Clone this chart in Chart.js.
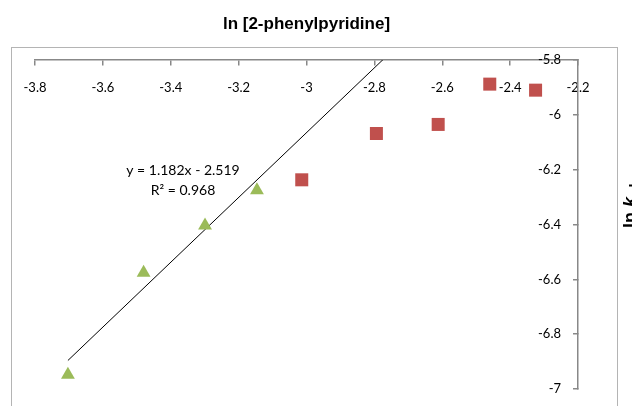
<!DOCTYPE html>
<html>
<head>
<meta charset="utf-8">
<script src="https://cdn.jsdelivr.net/npm/chart.js@4/dist/chart.umd.min.js"></script>
<style>
  body { margin: 0; background: #fff; }
  #wrap { position: relative; width: 632px; height: 406px; overflow: hidden; }
  #frame { position: absolute; left: 11px; top: 47px; width: 605px; height: 420px; border: 1px solid #b4b4b4; }
  canvas { position: absolute; left: 0; top: 0; }
</style>
</head>
<body>
<div id="wrap">
  <div id="frame"></div>
  <canvas id="chart" width="632" height="406"></canvas>
</div>
<script>
// ln [2-phenylpyridine] against ln k_obs, two concentration regimes
const xTickLabels = ['-3.8', '-3.6', '-3.4', '-3.2', '-3', '-2.8', '-2.6', '-2.4', '-2.2'];
const yTickLabels = ['-7', '-6.8', '-6.6', '-6.4', '-6.2', '-6', '-5.8'];

// low concentration points (fitted)
const lowX = [-3.703, -3.48, -3.299, -3.146];
const lowY = [-6.948, -6.576, -6.404, -6.275];

// high concentration points
const highX = [-3.014, -2.794, -2.612, -2.46, -2.325];
const highY = [-6.237, -6.068, -6.035, -5.888, -5.91];

// linear trendline from the fit
const slope = 1.182;
const intercept = -2.519;
const rSquared = 0.968;
const trendX = [-3.703, -2.7];

const axisFont = { family: 'Lato', size: 13 };

function toPoints(xs, ys) {
    return xs.map((x, i) => ({ x: x, y: ys[i] }));
}

// equation label and the rotated y title
const annotations = {
    id: 'annotations',
    afterDraw(chart) {
        const ctx = chart.ctx;
        ctx.save();
        ctx.fillStyle = '#000';
        ctx.textAlign = 'center';
        ctx.textBaseline = 'middle';
        ctx.font = '14px Lato';
        ctx.fillText('y = ' + slope + 'x - ' + Math.abs(intercept), 183, 170);
        ctx.fillText('R\u00B2 = ' + rSquared, 183, 190);

        ctx.translate(636, 228);
        ctx.rotate(-Math.PI / 2);
        ctx.textAlign = 'left';
        ctx.textBaseline = 'alphabetic';
        ctx.font = 'bold 18px "Liberation Sans"';
        ctx.fillText('ln ', 0, 0);
        let w = ctx.measureText('ln ').width;
        ctx.font = 'italic bold 18px "Liberation Sans"';
        ctx.fillText('k', w, 0);
        w += ctx.measureText('k').width + 1;
        ctx.font = 'bold 14px "Liberation Sans"';
        ctx.fillText('obs', w, 4);
        ctx.restore();
    }
};

const ctx = document.getElementById('chart').getContext('2d');
const chart = new Chart(ctx, {
    type: 'scatter',
    data: {
        datasets: [
            {
                label: 'low',
                data: toPoints(lowX, lowY),
                pointStyle: 'triangle',
                pointRadius: 8,
                backgroundColor: '#9BBB59',
                borderColor: '#9BBB59',
                borderWidth: 0
            },
            {
                label: 'high',
                data: toPoints(highX, highY),
                pointStyle: 'rect',
                pointRadius: 9.2,
                backgroundColor: '#C0504D',
                borderColor: '#C0504D',
                borderWidth: 0
            },
            {
                label: 'trend',
                type: 'line',
                data: trendX.map(x => ({ x: x, y: slope * x + intercept })),
                borderColor: '#000',
                borderWidth: 1,
                pointRadius: 0,
                fill: false
            }
        ]
    },
    options: {
        responsive: false,
        animation: false,
        events: [],
        layout: { padding: { left: 35, right: 54, top: 0, bottom: 17 } },
        plugins: {
            legend: { display: false },
            tooltip: { enabled: false },
            title: {
                display: true,
                fullSize: false,
                text: 'ln [2-phenylpyridine]',
                color: '#000',
                font: { family: 'Liberation Sans', size: 17, weight: 'bold' },
                padding: { top: 14.3, bottom: 25.3 }
            }
        },
        scales: {
            x: {
                type: 'linear',
                position: { y: -5.8 },
                min: -3.8,
                max: -2.2,
                border: { color: '#888', width: 1.5 },
                grid: { drawOnChartArea: false, tickLength: 5, color: '#888', lineWidth: 1.5 },
                ticks: {
                    stepSize: 0.2,
                    padding: 15,
                    color: '#000',
                    font: axisFont,
                    maxRotation: 0,
                    autoSkip: false,
                    callback: (v, i) => xTickLabels[i]
                }
            },
            y: {
                type: 'linear',
                position: 'right',
                min: -7,
                max: -5.8,
                border: { color: '#888', width: 1.5 },
                grid: { drawOnChartArea: false, tickLength: -5, color: '#888', lineWidth: 1.5 },
                ticks: {
                    stepSize: 0.2,
                    mirror: true,
                    padding: -17,
                    color: '#000',
                    font: axisFont,
                    autoSkip: false,
                    callback: (v, i) => yTickLabels[i]
                },
                afterFit(scale) {
                    scale.width = 0;
                }
            }
        }
    },
    plugins: [annotations]
});
</script>
</body>
</html>
